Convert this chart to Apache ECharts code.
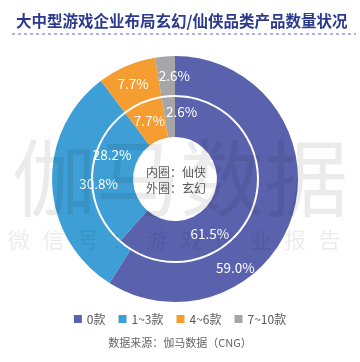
<!DOCTYPE html>
<html>
<head>
<meta charset="utf-8">
<script src="https://cdn.jsdelivr.net/npm/echarts@6/dist/echarts.min.js"></script>
<style>
html,body{margin:0;padding:0;background:#fff;}
#c{width:360px;height:362px;}
</style>
</head>
<body>
<div id="c"></div>
<script>
// Data
var categories = ['0款', '1~3款', '4~6款', '7~10款'];
var outerValues = [59.0, 30.8, 7.7, 2.6];   // 外圈：玄幻
var innerValues = [61.5, 28.2, 7.7, 2.6];   // 内圈：仙侠
var colors = ['#5a62ae', '#3d9fd5', '#f59d31', '#a6a6a9'];

// label adjustments (layout, not data)
var outerOffsets = [[-42, 59], [30, 0], [0, 3], [8, 3]];
var innerOffsets = [[-26, 32], [2, -22], [0, 2], [12, -2]];

var FONT = '"Noto Sans CJK SC", "Noto Sans", sans-serif';

function build(values, offsets) {
  return values.map(function (v, i) {
    return {
      name: categories[i],
      value: v,
      itemStyle: { color: colors[i] },
      label: { offset: offsets[i] }
    };
  });
}

var labelCfg = {
  show: true,
  position: 'inside',
  color: '#fff',
  fontSize: 13.5,
  fontFamily: FONT,
  formatter: function (p) { return p.value.toFixed(1) + '%'; }
};

var chart = echarts.init(document.getElementById('c'), null, { renderer: 'canvas' });

var wmChars = ['微', '信', '号', '：', '游', '戏', '产', '业', '报', '告'];
var wmSmall = wmChars.map(function (ch, i) {
  return {
    type: 'text', z: 100,
    style: { text: ch, x: 8 + i * 34.5, y: 240, font: '22px ' + FONT, fill: 'rgba(0,0,0,0.08)', textVerticalAlign: 'middle' }
  };
});

chart.setOption({
  backgroundColor: '#fff',
  animation: false,
  title: {
    text: '大中型游戏企业布局玄幻/仙侠品类产品数量状况',
    left: 11, top: 8,
    textStyle: { fontSize: 15.5, fontWeight: 'bold', color: '#2c3a8d', fontFamily: FONT }
  },
  legend: {
    data: categories,
    bottom: 32,
    left: 'center',
    icon: 'rect',
    itemWidth: 8, itemHeight: 8, itemGap: 13,
    textStyle: { fontSize: 12, color: '#595959', fontFamily: FONT }
  },
  graphic: [
    {
      type: 'line', z: 10,
      shape: { x1: 12, y1: 34, x2: 356, y2: 34 },
      style: { stroke: '#5a6ab5', lineWidth: 1, lineDash: [3, 3] }
    },
    {
      type: 'text', z: 100,
      style: { text: '伽马数据', x: 180, y: 178, font: '84px ' + FONT, fill: 'rgba(0,0,0,0.08)', textAlign: 'center', textVerticalAlign: 'middle' }
    }
  ].concat(wmSmall).concat([
    {
      type: 'text', z: 110,
      style: { text: '内圈：仙侠\n外圈：玄幻', x: 176, y: 180, font: '12px ' + FONT, lineHeight: 16, fill: '#595959', textAlign: 'center', textVerticalAlign: 'middle' }
    },
    {
      type: 'text', z: 110,
      style: { text: '数据来源：伽马数据（CNG）', x: 180, y: 343, font: '11px ' + FONT, fill: '#666', textAlign: 'center', textVerticalAlign: 'middle' }
    }
  ]),
  series: [
    {
      name: '外圈：玄幻',
      type: 'pie',
      center: [175, 179],
      radius: [84, 123],
      startAngle: 90,
      clockwise: true,
      avoidLabelOverlap: false,
      label: labelCfg,
      labelLine: { show: false },
      emphasis: { disabled: true },
      data: build(outerValues, outerOffsets)
    },
    {
      name: '内圈：仙侠',
      type: 'pie',
      center: [175, 179],
      radius: [42, 82],
      startAngle: 90,
      clockwise: true,
      avoidLabelOverlap: false,
      label: labelCfg,
      labelLine: { show: false },
      emphasis: { disabled: true },
      data: build(innerValues, innerOffsets)
    }
  ]
});
</script>
</body>
</html>
